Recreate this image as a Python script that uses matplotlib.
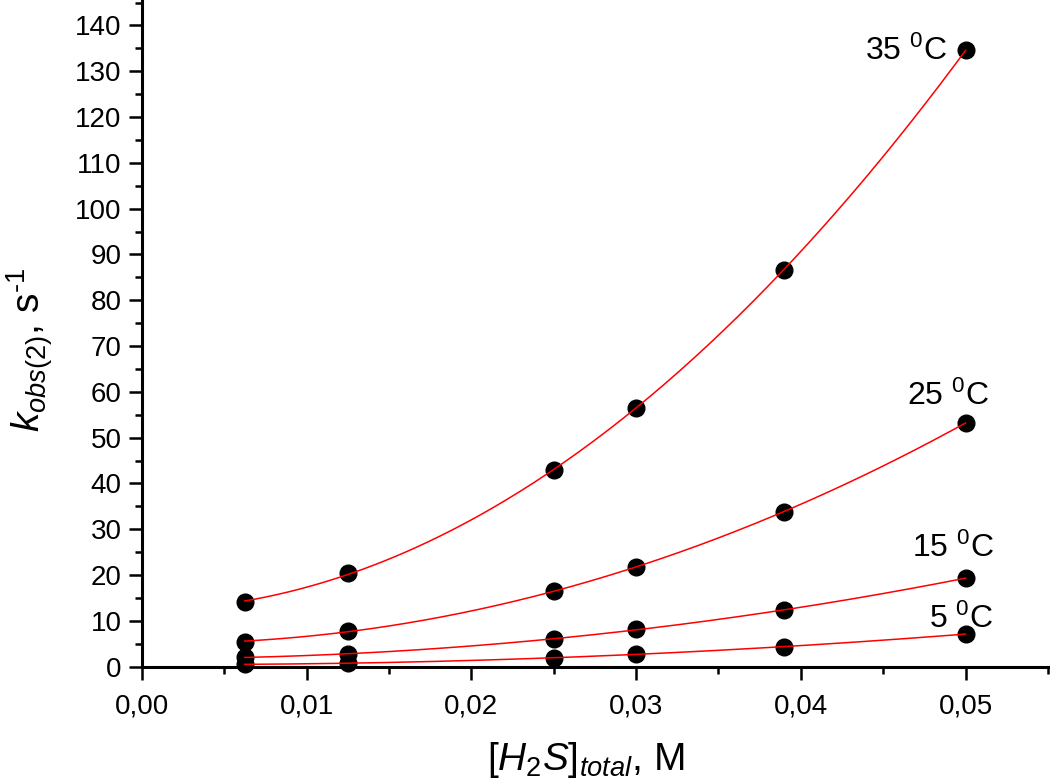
import numpy as np
import matplotlib
matplotlib.use("Agg")
import matplotlib.pyplot as plt
from matplotlib.ticker import MultipleLocator, FuncFormatter

plt.rcParams['font.family'] = ['Liberation Sans', 'DejaVu Sans']
plt.rcParams['mathtext.fontset'] = 'custom'
plt.rcParams['mathtext.rm'] = 'Liberation Sans'
plt.rcParams['mathtext.it'] = 'Liberation Sans:italic'
plt.rcParams['mathtext.bf'] = 'Liberation Sans:bold'

# data
conc = [0.00625, 0.0125, 0.025, 0.03, 0.039, 0.05]
k_35 = [14.1, 20.5, 42.9, 56.5, 86.7, 134.6]
k_25 = [5.45, 7.8, 16.5, 21.8, 33.7, 53.3]
k_15 = [2.1, 2.7, 6.0, 8.2, 12.4, 19.3]
k_5 = [0.5, 0.8, 1.8, 2.8, 4.4, 7.1]
series = [k_35, k_25, k_15, k_5]
labels = ['35 $^{0}$C', '25 $^{0}$C', '15 $^{0}$C', '5 $^{0}$C']
label_pos = [(0.0489, 132.5), (0.0514, 57.1), (0.0517, 23.9), (0.0517, 8.4)]

fig = plt.figure(figsize=(10.5, 7.78), dpi=100)
ax = fig.add_axes([0.135, 0.1431, 0.863, 0.8566])

x = np.array(conc)
xs = np.linspace(x.min(), x.max(), 200)
for ys, lab, pos in zip(series, labels, label_pos):
    coef = np.polyfit(x, np.array(ys), 2)
    ax.plot(xs, np.polyval(coef, xs), color='red', lw=1.1, zorder=3)
    ax.plot(x, ys, 'o', color='black', ms=12, zorder=2, clip_on=False)
    ax.text(pos[0], pos[1], lab, ha='right', va='baseline', fontsize=23)

ax.set_xlim(0, 0.055)
ax.set_ylim(0, 145.5)
ax.spines['top'].set_visible(False)
ax.spines['right'].set_visible(False)
for s in ['left', 'bottom']:
    ax.spines[s].set_linewidth(2.2)
ax.xaxis.set_major_locator(MultipleLocator(0.01))
ax.xaxis.set_minor_locator(MultipleLocator(0.005))
ax.yaxis.set_major_locator(MultipleLocator(10))
ax.yaxis.set_minor_locator(MultipleLocator(5))
ax.xaxis.set_major_formatter(FuncFormatter(lambda v, p: f"{v:.2f}".replace('.', ',')))
ax.tick_params(which='major', direction='out', length=9.5, width=1.8, labelsize=20, pad=5)
ax.tick_params(axis='x', which='major', pad=10)
ax.tick_params(which='minor', direction='out', length=5, width=1.8)

ax.set_xlabel(r'$[H_{\mathrm{2}}S]_{total}$, M', fontsize=28)
ax.set_ylabel(r'$k_{obs(2)}$, s$^{\mathrm{\text{-1}}}$', fontsize=28)
ax.xaxis.set_label_coords(0.49, -0.11)
ax.yaxis.set_label_coords(-0.096, 0.475)

fig.savefig('out.png', dpi=100)
